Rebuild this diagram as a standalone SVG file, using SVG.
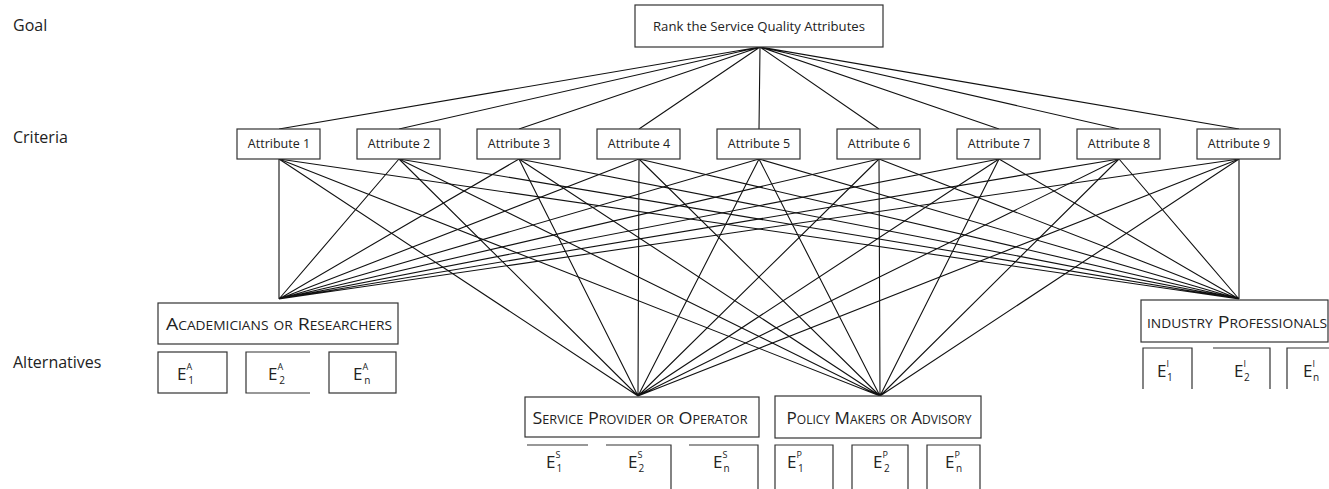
<svg xmlns="http://www.w3.org/2000/svg" width="1329" height="489" viewBox="0 0 1329 489">
<style>
.bg{fill:#fff}
.box{fill:#fff;stroke:#333;stroke-width:1.2}
.open{fill:none;stroke:#333;stroke-width:1.2}
.ln{stroke:#111;stroke-width:1.1;fill:none}
.lvl{font-family:"Open Sans","Noto Sans",sans-serif;font-size:16px;fill:#222}
.t{font-family:"Open Sans","Noto Sans",sans-serif;font-size:12.5px;fill:#222;text-anchor:middle}
.alt{font-family:"Open Sans","Noto Sans",sans-serif;font-size:17px;fill:#222;font-variant:small-caps;text-anchor:middle}
.e{font-family:"Open Sans","Noto Sans",sans-serif;font-size:17px;fill:#222}
.sup{font-size:9px}
.sub{font-size:10px}
</style>
<rect class="bg" x="0" y="0" width="1329" height="489"/>

<g id="levels">
<text class="lvl" x="13" y="31">Goal</text>
<text class="lvl" x="13" y="143">Criteria</text>
<text class="lvl" x="13" y="368">Alternatives</text>
</g>

<g id="connectors">
<path class="ln" d="M760 47L279 129M760 47L399 129M760 47L519 129M760 47L639 129M760 47L759 129M760 47L879 129M760 47L999 129M760 47L1119 129M760 47L1239 129"/>
<path class="ln" d="M279 159L279 299M399 159L279 299M519 159L279 299M639 159L279 299M759 159L279 299M879 159L279 299M999 159L279 299M1119 159L279 299M1239 159L279 299"/>
<path class="ln" d="M279 159L638 396M399 159L638 396M519 159L638 396M639 159L638 396M759 159L638 396M879 159L638 396M999 159L638 396M1119 159L638 396M1239 159L638 396"/>
<path class="ln" d="M279 159L880 396M399 159L880 396M519 159L880 396M639 159L880 396M759 159L880 396M879 159L880 396M999 159L880 396M1119 159L880 396M1239 159L880 396"/>
<path class="ln" d="M279 159L1239 299M399 159L1239 299M519 159L1239 299M639 159L1239 299M759 159L1239 299M879 159L1239 299M999 159L1239 299M1119 159L1239 299M1239 159L1239 299"/>
</g>

<g id="goal">
<rect class="box" x="635" y="5" width="248" height="42"/>
<text class="t" x="759" y="31" textLength="212" lengthAdjust="spacingAndGlyphs">Rank the Service Quality Attributes</text>
</g>

<g id="attr1"><rect class="box" x="237" y="129" width="83" height="30"/><text class="t" x="279" y="148">Attribute 1</text></g>
<g id="attr2"><rect class="box" x="357" y="129" width="83" height="30"/><text class="t" x="399" y="148">Attribute 2</text></g>
<g id="attr3"><rect class="box" x="477" y="129" width="83" height="30"/><text class="t" x="519" y="148">Attribute 3</text></g>
<g id="attr4"><rect class="box" x="597" y="129" width="83" height="30"/><text class="t" x="639" y="148">Attribute 4</text></g>
<g id="attr5"><rect class="box" x="717" y="129" width="83" height="30"/><text class="t" x="759" y="148">Attribute 5</text></g>
<g id="attr6"><rect class="box" x="837" y="129" width="83" height="30"/><text class="t" x="879" y="148">Attribute 6</text></g>
<g id="attr7"><rect class="box" x="957" y="129" width="83" height="30"/><text class="t" x="999" y="148">Attribute 7</text></g>
<g id="attr8"><rect class="box" x="1077" y="129" width="83" height="30"/><text class="t" x="1119" y="148">Attribute 8</text></g>
<g id="attr9"><rect class="box" x="1197" y="129" width="83" height="30"/><text class="t" x="1239" y="148">Attribute 9</text></g>

<g id="academicians">
<rect class="box" x="158" y="303" width="240" height="41"/>
<text class="alt" x="279" y="330" textLength="226" lengthAdjust="spacingAndGlyphs">Academicians or Researchers</text>
<rect class="box" x="158" y="352" width="69" height="41"/>
<path class="open" d="M310 352H246V393H310"/>
<rect class="box" x="329" y="352" width="67" height="41"/>
<text class="e" x="177" y="380">E<tspan class="sup" dy="-10">A</tspan><tspan class="sub" dx="-4" dy="14">1</tspan></text>
<text class="e" x="268" y="380">E<tspan class="sup" dy="-10">A</tspan><tspan class="sub" dx="-4" dy="14">2</tspan></text>
<text class="e" x="353" y="380">E<tspan class="sup" dy="-10">A</tspan><tspan class="sub" dx="-4" dy="14">n</tspan></text>
</g>

<g id="industry">
<rect class="box" x="1141" y="300" width="187" height="42"/>
<text class="alt" x="1237" y="328" textLength="180" lengthAdjust="spacingAndGlyphs">industry Professionals</text>
<path class="open" d="M1143 389V348H1192V389"/>
<path class="open" d="M1213 348H1270V389"/>
<path class="open" d="M1287 389V348H1329"/>
<text class="e" x="1157" y="377">E<tspan class="sup" dy="-10">I</tspan><tspan class="sub" dx="-2" dy="14">1</tspan></text>
<text class="e" x="1234" y="377">E<tspan class="sup" dy="-10">I</tspan><tspan class="sub" dx="-2" dy="14">2</tspan></text>
<text class="e" x="1303" y="377">E<tspan class="sup" dy="-10">I</tspan><tspan class="sub" dx="-2" dy="14">n</tspan></text>
</g>

<g id="service">
<rect class="box" x="525" y="397" width="234" height="40"/>
<text class="alt" x="640" y="424" textLength="215" lengthAdjust="spacingAndGlyphs">Service Provider or Operator</text>
<path class="open" d="M527 445H588"/>
<path class="open" d="M606 445H671V489"/>
<path class="open" d="M689 445H758V489"/>
<text class="e" x="546" y="468">E<tspan class="sup" dy="-10">S</tspan><tspan class="sub" dx="-4" dy="14">1</tspan></text>
<text class="e" x="628" y="468">E<tspan class="sup" dy="-10">S</tspan><tspan class="sub" dx="-4" dy="14">2</tspan></text>
<text class="e" x="713" y="468">E<tspan class="sup" dy="-10">S</tspan><tspan class="sub" dx="-4" dy="14">n</tspan></text>
</g>

<g id="policy">
<rect class="box" x="775" y="396" width="206" height="42"/>
<text class="alt" x="879" y="424" textLength="185" lengthAdjust="spacingAndGlyphs">Policy Makers or Advisory</text>
<path class="open" d="M775 489V445H833V489"/>
<path class="open" d="M852 489V445H908V489"/>
<path class="open" d="M927 489V445H980V489"/>
<text class="e" x="787" y="468">E<tspan class="sup" dy="-10">P</tspan><tspan class="sub" dx="-4" dy="14">1</tspan></text>
<text class="e" x="873" y="468">E<tspan class="sup" dy="-10">P</tspan><tspan class="sub" dx="-4" dy="14">2</tspan></text>
<text class="e" x="945" y="468">E<tspan class="sup" dy="-10">P</tspan><tspan class="sub" dx="-4" dy="14">n</tspan></text>
</g>
</svg>
